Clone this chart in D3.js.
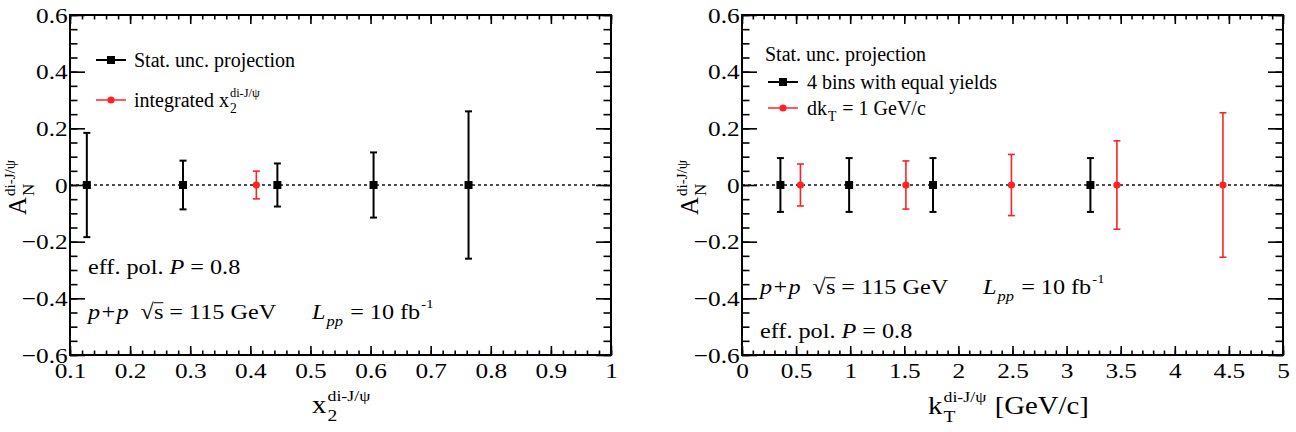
<!DOCTYPE html>
<html>
<head>
<meta charset="utf-8">
<script src="https://cdn.jsdelivr.net/npm/d3@7"></script>
<style>
  body { margin: 0; background: #fff; }
  svg text { font-family: "Liberation Serif", "Times New Roman", serif; fill: #000; white-space: pre; }
</style>
</head>
<body>
<div id="chart"></div>
<script>
// left panel: x2 bins
const leftBlackX = [0.128, 0.288, 0.445, 0.605, 0.763];
const leftBlackY = [0, 0, 0, 0, 0];
const leftBlackErr = [0.184, 0.086, 0.076, 0.115, 0.26];
const leftRedX = [0.41];
const leftRedY = [0];
const leftRedErr = [0.049];

// right panel: kT bins
const rightBlackX = [0.355, 0.99, 1.765, 3.22];
const rightBlackY = [0, 0, 0, 0];
const rightBlackErr = [0.095, 0.095, 0.095, 0.095];
const rightRedX = [0.54, 1.515, 2.49, 3.465, 4.445];
const rightRedY = [0, 0, 0, 0, 0];
const rightRedErr = [0.074, 0.085, 0.108, 0.156, 0.255];

const yTicks = [-0.6, -0.4, -0.2, 0, 0.2, 0.4, 0.6];
const leftXTicks = [0.1, 0.2, 0.3, 0.4, 0.5, 0.6, 0.7, 0.8, 0.9, 1];
const rightXTicks = [0, 0.5, 1, 1.5, 2, 2.5, 3, 3.5, 4, 4.5, 5];

const width = 1296;
const height = 432;
const plotTop = 15, plotBottom = 355;
const SX = 1.15; // the original canvas is a bit wider than tall, text looks stretched

const svg = d3.select('#chart')
              .append('svg')
              .attr('width', width)
              .attr('height', height);

const fmtY = d => d === 0 ? '0' : (d < 0 ? '\u2212' + d3.format('.1f')(-d) : d3.format('.1f')(d));

// text with sub/superscripts, laid out piece by piece
function richText(parent, x, y, fs, pieces, opts) {
  opts = opts || {};
  let tf = 'translate(' + x + ',' + y + ')';
  if (opts.rotate) tf += ' rotate(' + opts.rotate + ')';
  if (opts.sx) tf += ' scale(' + opts.sx + ',1)';
  const g = parent.append('g').attr('transform', tf);
  const supScale = opts.supScale || 0.6;
  const supRise = opts.supRise || 0.5;
  let cx = 0;
  pieces.forEach(p => {
    if (p.text) {
      const t = g.append('text')
                 .attr('x', cx)
                 .attr('font-size', fs)
                 .attr('font-style', p.italic ? 'italic' : null)
                 .text(p.text);
      const w = t.node().getComputedTextLength();
      if (p.over) {
        g.append('line')
         .attr('x1', cx).attr('x2', cx + w)
         .attr('y1', -fs * 0.74).attr('y2', -fs * 0.74)
         .attr('stroke', '#000').attr('stroke-width', 1);
      }
      cx += w;
    }
    let w = 0;
    if (p.sub) {
      const s = g.append('text')
                 .attr('x', cx + 1)
                 .attr('y', fs * 0.32)
                 .attr('font-size', fs * 0.68)
                 .attr('font-style', p.subItalic ? 'italic' : null)
                 .text(p.sub);
      w = Math.max(w, s.node().getComputedTextLength());
    }
    if (p.sup) {
      const s = g.append('text')
                 .attr('x', cx + 1)
                 .attr('y', -fs * supRise)
                 .attr('font-size', fs * supScale)
                 .text(p.sup);
      w = Math.max(w, s.node().getComputedTextLength());
    }
    if (w) cx += w + 2;
  });
  return g;
}

function drawPanel(cfg) {
  const x = d3.scaleLinear().domain(cfg.xDomain).range([cfg.x0, cfg.x1]);
  const y = d3.scaleLinear().domain([-0.6, 0.6]).range([plotBottom, plotTop]);
  const g = svg.append('g');

  const yMinor = d3.range(-0.6, 0.6001, 0.05);
  const xMinor = d3.range(cfg.xDomain[0], cfg.xDomain[1] + 1e-6, cfg.minorStep);

  const axes = [
    [d3.axisLeft(y).tickValues(yMinor).tickSize(-7.5).tickFormat(''), 'translate(' + cfg.x0 + ',0)'],
    [d3.axisLeft(y).tickValues(yTicks).tickSize(-15).tickPadding(2).tickFormat(fmtY), 'translate(' + cfg.x0 + ',0)'],
    [d3.axisRight(y).tickValues(yMinor).tickSize(-7.5).tickFormat(''), 'translate(' + cfg.x1 + ',0)'],
    [d3.axisRight(y).tickValues(yTicks).tickSize(-15).tickFormat(''), 'translate(' + cfg.x1 + ',0)'],
    [d3.axisBottom(x).tickValues(xMinor).tickSize(-4.5).tickFormat(''), 'translate(0,' + plotBottom + ')'],
    [d3.axisBottom(x).tickValues(cfg.xTicks).tickSize(-9).tickPadding(7).tickFormat(d3.format('')), 'translate(0,' + plotBottom + ')'],
    [d3.axisTop(x).tickValues(xMinor).tickSize(-4.5).tickFormat(''), 'translate(0,' + plotTop + ')'],
    [d3.axisTop(x).tickValues(cfg.xTicks).tickSize(-9).tickFormat(''), 'translate(0,' + plotTop + ')']
  ];
  axes.forEach(a => {
    const ax = g.append('g').attr('transform', a[1]).call(a[0]);
    ax.select('.domain').remove();
    ax.selectAll('line').attr('stroke', '#000').attr('stroke-width', 1.6);
    ax.selectAll('text')
      .attr('font-family', '"Liberation Serif", serif')
      .attr('font-size', 22)
      .attr('fill', '#000')
      .attr('transform', 'scale(' + SX + ',1)');
  });

  // frame
  g.append('rect')
   .attr('x', cfg.x0).attr('y', plotTop)
   .attr('width', cfg.x1 - cfg.x0).attr('height', plotBottom - plotTop)
   .attr('fill', 'none').attr('stroke', '#000').attr('stroke-width', 2);

  // zero line
  g.append('line')
   .attr('x1', cfg.x0).attr('x2', cfg.x1)
   .attr('y1', y(0)).attr('y2', y(0))
   .attr('stroke', '#111').attr('stroke-width', 1.6)
   .attr('stroke-dasharray', '3,3');

  cfg.series.forEach(s => {
    const pts = s.x.map((d, i) => ({ x: d, y: s.y[i], e: s.err[i] }));
    const sg = g.append('g');
    sg.selectAll('.bar').data(pts).enter().append('line')
      .attr('x1', d => x(d.x)).attr('x2', d => x(d.x))
      .attr('y1', d => y(d.y - d.e)).attr('y2', d => y(d.y + d.e))
      .attr('stroke', s.color).attr('stroke-width', s.lw);
    [-1, 1].forEach(sign => {
      sg.selectAll('.cap' + sign).data(pts).enter().append('line')
        .attr('x1', d => x(d.x) - 3.5).attr('x2', d => x(d.x) + 3.5)
        .attr('y1', d => y(d.y + sign * d.e)).attr('y2', d => y(d.y + sign * d.e))
        .attr('stroke', s.color).attr('stroke-width', s.lw);
    });
    if (s.shape === 'square') {
      sg.selectAll('rect').data(pts).enter().append('rect')
        .attr('x', d => x(d.x) - 4).attr('y', d => y(d.y) - 4)
        .attr('width', 8).attr('height', 8).attr('fill', s.color);
    } else {
      sg.selectAll('circle').data(pts).enter().append('circle')
        .attr('cx', d => x(d.x)).attr('cy', d => y(d.y))
        .attr('r', 3.6).attr('fill', s.color);
    }
  });

  // legend
  cfg.legend.forEach(l => {
    g.append('line')
     .attr('x1', l.lx).attr('x2', l.lx + 30)
     .attr('y1', l.ly).attr('y2', l.ly)
     .attr('stroke', l.color).attr('stroke-width', l.shape === 'square' ? 2 : 1.5);
    if (l.shape === 'square') {
      g.append('rect').attr('x', l.lx + 11).attr('y', l.ly - 4).attr('width', 8).attr('height', 8).attr('fill', l.color);
    } else {
      g.append('circle').attr('cx', l.lx + 15).attr('cy', l.ly).attr('r', 3.6).attr('fill', l.color);
    }
    richText(g, l.tx, l.ly + 7, 20, l.pieces, { supScale: 0.62 });
  });

  // y title
  richText(g, cfg.x0 - 44, 215, 25, [{ text: 'A', sub: 'N', sup: 'di-J/\u03c8' }],
           { rotate: -90, supScale: 0.6, supRise: 0.44 });

  return g;
}

const ppPieces = [
  { text: 'p+p', italic: true },
  { text: '  \u221a' },
  { text: 's', over: true },
  { text: ' = 115 GeV' }
];
const lumiPieces = [
  { text: 'L', italic: true, sub: 'pp', subItalic: true },
  { text: ' = 10 fb', sup: '-1' }
];
const polPieces = [
  { text: 'eff. pol. ' },
  { text: 'P', italic: true },
  { text: ' = 0.8' }
];
const noteOpts = { sx: 1.1 };

const left = drawPanel({
  x0: 70, x1: 611,
  xDomain: [0.1, 1], xTicks: leftXTicks, minorStep: 0.02,
  series: [
    { x: leftBlackX, y: leftBlackY, err: leftBlackErr, color: '#000', lw: 2, shape: 'square' },
    { x: leftRedX, y: leftRedY, err: leftRedErr, color: '#f22', lw: 1.6, shape: 'circle' }
  ],
  legend: [
    { lx: 96, ly: 60, tx: 134, color: '#000', shape: 'square', pieces: [{ text: 'Stat. unc. projection' }] },
    { lx: 96, ly: 100, tx: 134, color: '#f22', shape: 'circle', pieces: [{ text: 'integrated x', sub: '2', sup: 'di-J/\u03c8' }] }
  ]
});
richText(left, 88, 274, 22, polPieces, noteOpts);
richText(left, 88, 319, 22, ppPieces, noteOpts);
richText(left, 312, 319, 22, lumiPieces, noteOpts);
richText(left, 312, 413, 25, [{ text: 'x', sub: '2', sup: 'di-J/\u03c8' }], { sx: SX, supScale: 0.62 });

const right = drawPanel({
  x0: 742, x1: 1283,
  xDomain: [0, 5], xTicks: rightXTicks, minorStep: 0.1,
  series: [
    { x: rightBlackX, y: rightBlackY, err: rightBlackErr, color: '#000', lw: 2, shape: 'square' },
    { x: rightRedX, y: rightRedY, err: rightRedErr, color: '#f22', lw: 1.6, shape: 'circle' }
  ],
  legend: [
    { lx: 768, ly: 82, tx: 807, color: '#000', shape: 'square', pieces: [{ text: '4 bins with equal yields' }] },
    { lx: 768, ly: 108, tx: 807, color: '#f22', shape: 'circle', pieces: [{ text: 'dk', sub: 'T' }, { text: ' = 1 GeV/c' }] }
  ]
});
richText(right, 765, 61, 20, [{ text: 'Stat. unc. projection' }]);
richText(right, 760, 294, 22, ppPieces, noteOpts);
richText(right, 983, 294, 22, lumiPieces, noteOpts);
richText(right, 760, 338, 22, polPieces, noteOpts);
richText(right, 928, 414, 25, [{ text: 'k', sub: 'T', sup: 'di-J/\u03c8' }, { text: ' [GeV/c]' }], { sx: SX, supScale: 0.62 });
</script>
</body>
</html>
